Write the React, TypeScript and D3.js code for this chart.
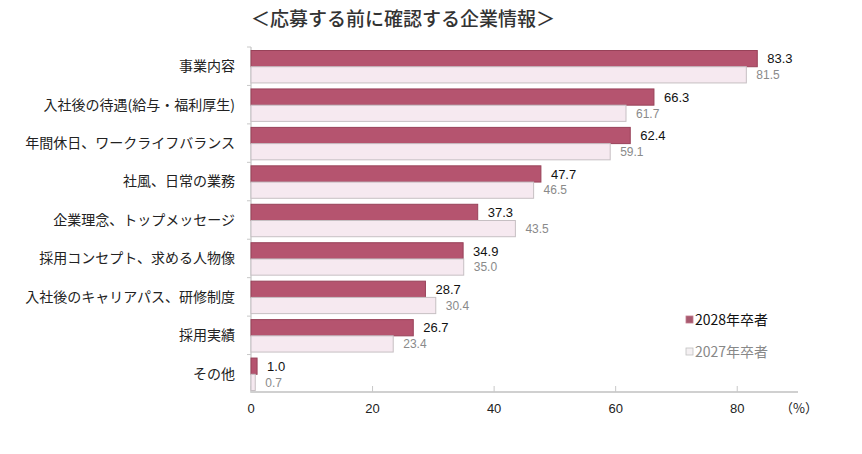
import React, { useEffect, useRef } from 'react';
import * as d3 from 'd3';

// data
const categories = [
  '事業内容',
  '入社後の待遇(給与・福利厚生)',
  '年間休日、ワークライフバランス',
  '社風、日常の業務',
  '企業理念、トップメッセージ',
  '採用コンセプト、求める人物像',
  '入社後のキャリアパス、研修制度',
  '採用実績',
  'その他',
];
const values2028 = [83.3, 66.3, 62.4, 47.7, 37.3, 34.9, 28.7, 26.7, 1.0];
const values2027 = [81.5, 61.7, 59.1, 46.5, 43.5, 35.0, 30.4, 23.4, 0.7];
const xTicks = [0, 20, 40, 60, 80];
const seriesNames = ['2028年卒者', '2027年卒者'];

const App: React.FC = () => {
  const ref = useRef<SVGSVGElement>(null);

  useEffect(() => {
    const svg = d3.select(ref.current);
    svg.selectAll('*').remove();

    const width = 862;
    const height = 454;
    const marginLeft = 251;
    const marginTop = 47;
    const plotRight = 798;
    const plotBottom = 393;
    const font = '"Noto Sans CJK JP", "Noto Sans", sans-serif';
    const numFont = '"Liberation Sans", Arial, sans-serif';

    const x = d3.scaleLinear().domain([0, 90]).range([marginLeft, plotRight]);
    const y = d3.scaleBand().domain(categories).range([marginTop, plotBottom]).paddingInner(0).paddingOuter(0);
    const inner = d3.scaleBand().domain(['a', 'b']).range([3.5, y.bandwidth() - 2.5]).padding(0);

    svg.attr('viewBox', [0, 0, width, height]).style('font-family', font);

    svg.append('rect').attr('width', width).attr('height', height).attr('fill', '#fff');

    // title
    svg.append('text')
      .attr('x', 403)
      .attr('y', 26)
      .attr('text-anchor', 'middle')
      .attr('font-size', 19)
      .attr('font-weight', 500)
      .attr('fill', '#333')
      .text('＜応募する前に確認する企業情報＞');

    // x axis
    const xAxis = svg.append('g').attr('transform', `translate(0,${plotBottom - 1})`);
    xAxis.append('line')
      .attr('x1', marginLeft).attr('x2', plotRight)
      .attr('stroke', '#d0d0d0').attr('stroke-width', 2);
    xAxis.selectAll('line.tick')
      .data(xTicks)
      .join('line')
      .attr('class', 'tick')
      .attr('x1', d => x(d)).attr('x2', d => x(d))
      .attr('y1', 0).attr('y2', -6)
      .attr('stroke', '#c8c8c8');
    xAxis.selectAll('text')
      .data(xTicks)
      .join('text')
      .attr('x', d => x(d))
      .attr('y', 21)
      .attr('text-anchor', 'middle')
      .attr('font-family', numFont)
      .attr('font-size', 13)
      .attr('fill', '#222')
      .text(d => d);
    xAxis.append('text')
      .attr('x', 799)
      .attr('y', 21)
      .attr('text-anchor', 'middle')
      .attr('font-size', 13)
      .attr('fill', '#222')
      .text('（%）');

    // y axis
    const yAxis = svg.append('g');
    yAxis.append('line')
      .attr('x1', marginLeft).attr('x2', marginLeft)
      .attr('y1', marginTop).attr('y2', plotBottom)
      .attr('stroke', '#d0d0d0').attr('stroke-width', 1.5);
    yAxis.selectAll('line.tick')
      .data(categories)
      .join('line')
      .attr('class', 'tick')
      .attr('x1', marginLeft - 4).attr('x2', marginLeft)
      .attr('y1', d => y(d)).attr('y2', d => y(d))
      .attr('stroke', '#c8c8c8');
    yAxis.selectAll('text')
      .data(categories)
      .join('text')
      .attr('x', 235)
      .attr('y', d => y(d) + y.bandwidth() / 2)
      .attr('dy', '0.35em')
      .attr('text-anchor', 'end')
      .attr('font-size', 14)
      .attr('fill', '#222')
      .text(d => d);

    // bars
    const groups = svg.append('g').selectAll('g')
      .data(categories)
      .join('g')
      .attr('transform', d => `translate(0,${y(d)})`);

    groups.append('rect')
      .attr('x', marginLeft)
      .attr('y', inner('a'))
      .attr('width', (d, i) => x(values2028[i]) - marginLeft)
      .attr('height', inner.bandwidth())
      .attr('fill', '#b5546f')
      .attr('stroke', '#984259')
      .attr('stroke-width', 1);

    groups.append('rect')
      .attr('x', marginLeft)
      .attr('y', inner('b'))
      .attr('width', (d, i) => x(values2027[i]) - marginLeft)
      .attr('height', inner.bandwidth())
      .attr('fill', '#f6e9f0')
      .attr('stroke', '#c6bfc3')
      .attr('stroke-width', 1);

    groups.append('text')
      .attr('x', (d, i) => x(values2028[i]) + 10)
      .attr('y', inner('a') + inner.bandwidth() / 2)
      .attr('dy', '0.36em')
      .attr('font-family', numFont)
      .attr('font-size', 13)
      .attr('fill', '#111')
      .text((d, i) => values2028[i].toFixed(1));

    groups.append('text')
      .attr('x', (d, i) => x(values2027[i]) + 10)
      .attr('y', inner('b') + inner.bandwidth() / 2)
      .attr('dy', '0.36em')
      .attr('font-family', numFont)
      .attr('font-size', 12)
      .attr('fill', '#8a8a8a')
      .text((d, i) => values2027[i].toFixed(1));

    // legend
    const legend = svg.append('g').attr('transform', 'translate(686,320)');
    const items = legend.selectAll('g')
      .data(seriesNames)
      .join('g')
      .attr('transform', (d, i) => `translate(0,${i * 32})`);
    items.append('rect')
      .attr('x', 0).attr('y', -4)
      .attr('width', 7).attr('height', 7)
      .attr('fill', (d, i) => (i === 0 ? '#a8596f' : '#f4f0f2'))
      .attr('stroke', (d, i) => (i === 0 ? '#c07a8d' : '#c0c0c0'))
      .attr('stroke-width', 0.8);
    items.append('text')
      .attr('x', 9)
      .attr('y', 0)
      .attr('dy', '0.38em')
      .attr('font-size', 14)
      .attr('fill', (d, i) => (i === 0 ? '#111' : '#888'))
      .text(d => d);
  }, []);

  return (
    <svg
      ref={ref}
      width={862}
      height={454}
      style={{ position: 'absolute', left: 0, top: 0, display: 'block' }}
    />
  );
};

export default App;
